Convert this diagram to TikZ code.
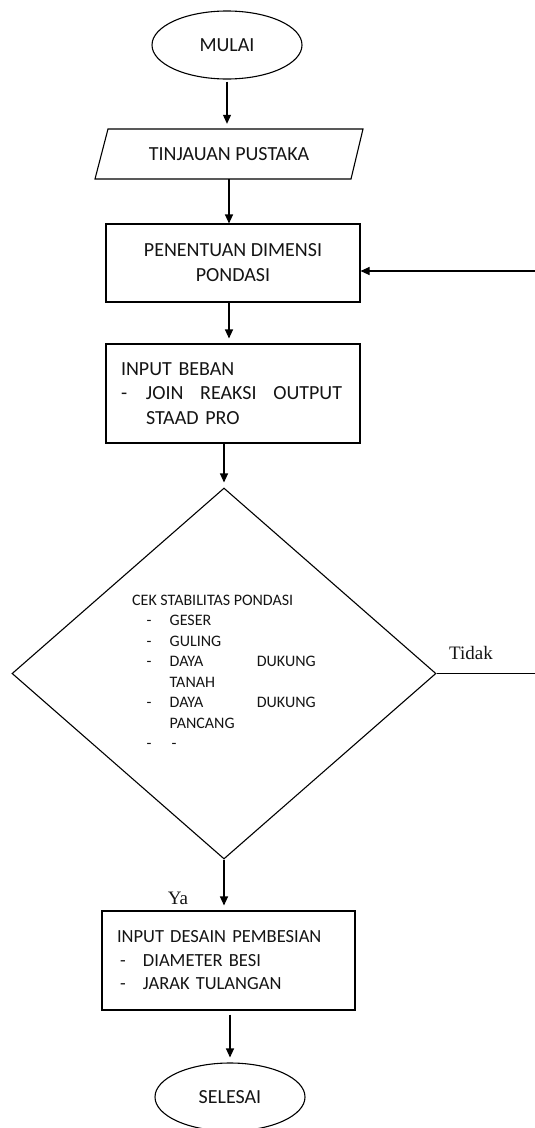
\documentclass[tikz,border=0pt]{standalone}
\usepackage{fontspec}
\setmainfont{Carlito}
\newfontfamily\serifTNR{Liberation Serif}
\usetikzlibrary{shapes.geometric,arrows.meta}
\definecolor{txt}{RGB}{20,20,20}
\newcommand{\dashitem}{\hspace*{14.5pt}\makebox[23pt][l]{-}}
\newcommand{\boxitem}{\makebox[26pt][l]{\hspace*{3pt}-}}
\begin{document}
\begin{tikzpicture}[x=1pt,y=-1pt,
  every node/.style={text=txt},
  line/.style={draw=black,line width=1.1pt},
  arr/.style={line,-{Triangle[length=9pt,width=8pt]}},
  term/.style={ellipse,draw,line width=1.1pt,minimum width=150pt,minimum height=68pt,inner sep=0pt,font=\fontsize{20}{24}\selectfont},
  proc/.style={rectangle,draw,line width=1.1pt,inner ysep=0pt},
  lbl/.style={font=\serifTNR\fontsize{19}{22}\selectfont,inner sep=0pt},
]
\useasboundingbox (0,0) rectangle (535,1128);

\node[term] (mulai) at (227,45) {MULAI};

\node[minimum width=240pt,minimum height=50pt,inner sep=0pt,font=\fontsize{20}{24}\selectfont] (tinjau) at (229,154) {TINJAUAN PUSTAKA};
\draw[line] (108,129) -- (363,129) -- (351,179) -- (95,179) -- cycle;

\node[proc,minimum width=254pt,minimum height=78pt,align=center,font=\fontsize{20}{25}\selectfont] (pen) at (233,263) {PENENTUAN DIMENSI\\PONDASI};

\node[proc,text width=224pt,inner xsep=15pt,minimum height=99pt,align=left,font=\fontsize{20}{24.5}\selectfont] (beban) at (233,393.5)
 {INPUT BEBAN\\
  \makebox[25pt][l]{-}\makebox[196pt][s]{JOIN\hfill REAKSI\hfill OUTPUT}\\
  \hspace*{25pt}STAAD PRO};

\node[diamond,draw,line width=1.1pt,minimum width=424pt,minimum height=371pt,inner sep=0pt] (cek) at (224,673.5) {};
\node[anchor=west,inner sep=0pt,align=left,font=\fontsize{16}{20.5}\selectfont] (cektxt) at (132,671.6)
 {CEK STABILITAS PONDASI\\
  \dashitem GESER\\
  \dashitem GULING\\
  \dashitem\makebox[146pt][s]{DAYA\hfill DUKUNG}\\
  \hspace*{37.5pt}TANAH\\
  \dashitem\makebox[146pt][s]{DAYA\hfill DUKUNG}\\
  \hspace*{37.5pt}PANCANG\\
  \dashitem\hspace*{2pt}-};

\node[proc,text width=223pt,inner xsep=15pt,minimum height=99pt,align=left,font=\fontsize{18.5}{23.5}\selectfont] (desain) at (228.5,960.5)
 {INPUT DESAIN PEMBESIAN\\
  \boxitem DIAMETER BESI\\
  \boxitem JARAK TULANGAN};

\node[term] (selesai) at (230,1097) {SELESAI};

\node[lbl] (tidak) at (471,653) {Tidak};
\node[lbl] (ya) at (178,898) {Ya};

\coordinate (tidakend) at (535,673.5);
\coordinate (fb) at (535,271);

\draw[arr,shorten <=2pt,shorten >=5pt] (mulai.south) -- (mulai.south |- tinjau.north);
\draw[arr] (tinjau.south) -- (tinjau.south |- pen.north);
\draw[arr,shorten >=5pt] (tinjau.south |- pen.south) -- (tinjau.south |- beban.north);
\draw[arr,shorten >=5pt] (cek.north |- beban.south) -- (cek.north);
\draw[arr,shorten >=5pt] (cek.south) -- (cek.south |- desain.north);
\draw[arr,shorten <=4pt,shorten >=5pt] (selesai.north |- desain.south) -- (selesai.north);
\draw[line] (cek.east) -- (tidakend);
\draw[arr] (fb) -- (fb -| pen.east);
\end{tikzpicture}
\end{document}
